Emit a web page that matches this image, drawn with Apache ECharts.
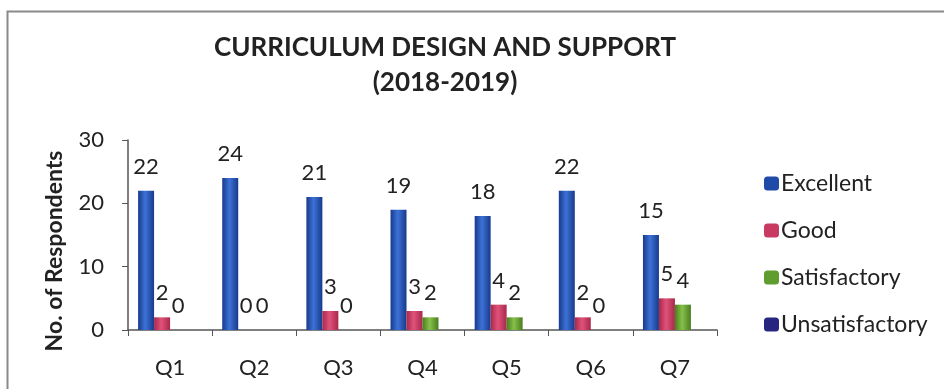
<!DOCTYPE html>
<html>
<head>
<meta charset="utf-8">
<script src="https://cdn.jsdelivr.net/npm/echarts@6/dist/echarts.min.js"></script>
<style>
html,body{margin:0;padding:0;background:#fff;}
#c{width:944px;height:389px;}
</style>
</head>
<body>
<div id="c"></div>
<script>
const categories = ['Q1','Q2','Q3','Q4','Q5','Q6','Q7'];
const excellent = [22,24,21,19,18,22,15];
const good = [2,0,3,3,4,2,5];
const satisfactory = [0,0,0,2,2,0,4];
const unsatisfactory = [null,null,null,null,null,null,null];
const seriesNames = ['Excellent','Good','Satisfactory','Unsatisfactory'];
const yTicks = {min:0,max:30,interval:10};

const FONT = 'Lato, "Open Sans", sans-serif';
function grad(dark, light){
  return new echarts.graphic.LinearGradient(0,0,1,0,[
    {offset:0,color:dark},{offset:0.45,color:light},{offset:1,color:dark}
  ]);
}
const colors = [
  grad('#173a8c','#3d72d6'),
  grad('#a8284c','#e0527a'),
  grad('#4a7d1e','#86c14a'),
  grad('#1c1c66','#3a3aa0')
];
const legendColors = ['#1f4aa8','#c83a62','#5f9e2e','#26267e'];

const chart = echarts.init(document.getElementById('c'));
const dataSets = [excellent, good, satisfactory, unsatisfactory];
chart.setOption({
  animation:false,
  backgroundColor:'#fff',
  graphic:[{type:'rect',shape:{x:7.5,y:11.5,width:960,height:400},style:{fill:'none',stroke:'#8a8a8a',lineWidth:2}}],
  title:{
    text:'CURRICULUM DESIGN AND SUPPORT\n(2018-2019)',
    left:440, top:25, textAlign:'center',
    textStyle:{fontFamily:FONT,fontWeight:'bold',fontSize:26,color:'#222',lineHeight:35}
  },
  legend:{
    orient:'vertical', left:759, top:167, itemGap:24,
    itemWidth:15, itemHeight:14,
    data:seriesNames.map((n,i)=>({name:n,itemStyle:{color:legendColors[i]}})),
    textStyle:{fontFamily:FONT,fontSize:23,color:'#222',padding:[0,0,0,-3]}
  },
  grid:{left:128,top:140,right:227,bottom:59,containLabel:false},
  xAxis:{
    type:'category', data:categories,
    axisLine:{lineStyle:{color:'#555',width:1.5}},
    axisTick:{show:true,inside:false,length:6,lineStyle:{color:'#555'}},
    axisLabel:{margin:27,fontFamily:FONT,fontSize:22,color:'#222'}
  },
  yAxis:{
    type:'value', min:yTicks.min, max:yTicks.max, interval:yTicks.interval,
    name:'No. of Respondents', nameLocation:'middle', nameGap:62,
    nameTextStyle:{fontFamily:FONT,fontSize:23,fontWeight:'bold',color:'#222',padding:[0,32,0,0]},
    axisLine:{show:true,lineStyle:{color:'#555',width:1.5}},
    axisTick:{show:true,inside:false,length:6,lineStyle:{color:'#555'}},
    splitLine:{show:false},
    axisLabel:{margin:24,fontFamily:FONT,fontSize:22,color:'#222'}
  },
  series: seriesNames.map((n,i)=>({
    name:n, type:'bar', data:dataSets[i],
    barGap:'0%', barCategoryGap:'24%',
    itemStyle:{color:colors[i]},
    label:{show:true,position:'top',distance:13,fontFamily:FONT,fontSize:22,color:'#222'}
  }))
});
</script>
</body>
</html>
